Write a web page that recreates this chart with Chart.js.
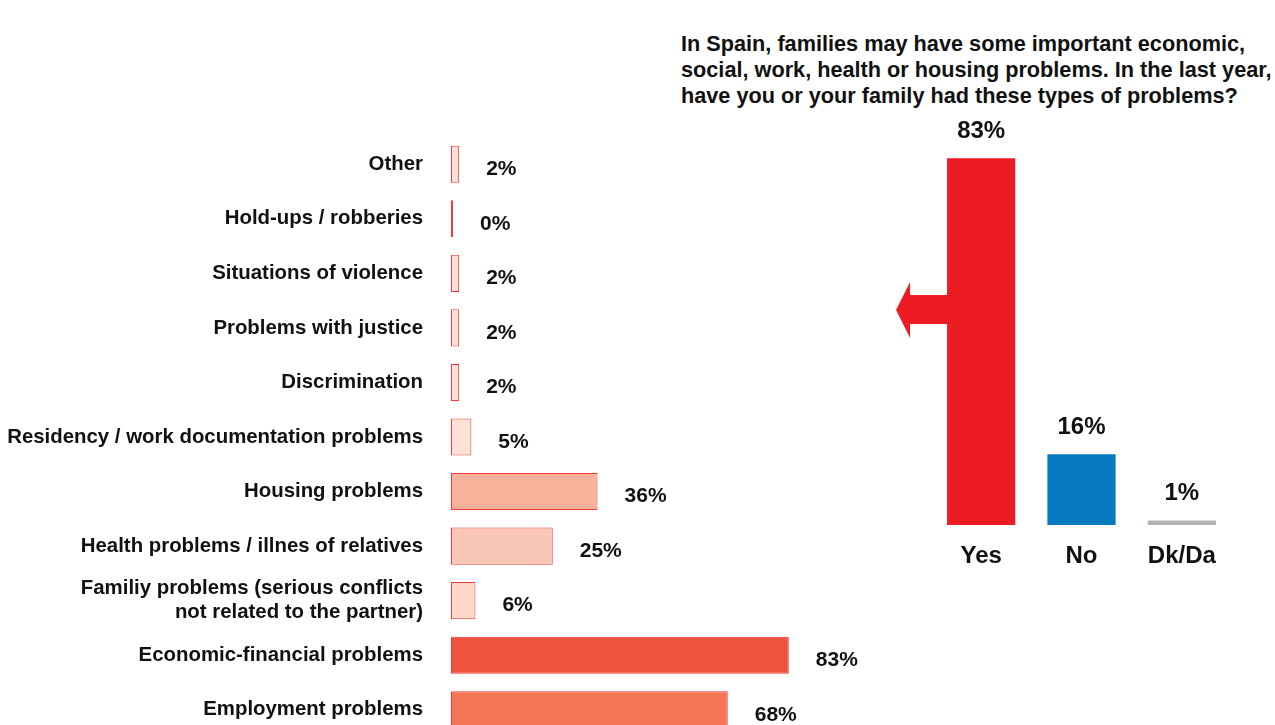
<!DOCTYPE html>
<html>
<head>
<meta charset="utf-8">
<script src="https://cdn.jsdelivr.net/npm/chart.js@4.4.1/dist/chart.umd.min.js"></script>
<style>
  html, body {
    margin: 0;
    padding: 0;
    background: #fff;
    width: 1275px;
    height: 725px;
    overflow: hidden;
  }
  .title {
    position: absolute;
    left: 681px;
    top: 31px;
    font: bold 21.7px "Liberation Sans", Arial, sans-serif;
    line-height: 26px;
    color: #111;
    white-space: nowrap;
  }
  #problems {
    position: absolute;
    left: 0;
    top: 137px;
  }
  #answers {
    position: absolute;
    left: 880px;
    top: 60px;
  }
</style>
</head>
<body>
<div class="title">
  In Spain, families may have some important economic,<br>
  social, work, health or housing problems. In the last year,<br>
  have you or your family had these types of problems?
</div>
<div id="problems"><canvas id="problemsChart" width="858" height="600"></canvas></div>
<div id="answers"><canvas id="answersChart" width="395" height="525"></canvas></div>

<script>
const FONT = '"Liberation Sans", Arial, sans-serif';

const problemLabels = [
  "Other",
  "Hold-ups / robberies",
  "Situations of violence",
  "Problems with justice",
  "Discrimination",
  "Residency / work documentation problems",
  "Housing problems",
  "Health problems / illnes of relatives",
  ["Familiy problems (serious conflicts", "not related to the partner)"],
  "Economic-financial problems",
  "Employment problems",
];
const problemValues = [2, 0, 2, 2, 2, 5, 36, 25, 6, 83, 68];
const problemColors = [
  "#fde0d6", "#fde0d6", "#fde0d6", "#fde0d6", "#fde0d6", "#fde0d6",
  "#f8b19b", "#fac6b5", "#fcd8cb", "#f0533b", "#f37556",
];

const answerLabels = ["Yes", "No", "Dk/Da"];
const answerValues = [83, 16, 1];
const answerColors = ["#ed1c24", "#0779bf", "#b1b3b6"];

// percentage next to each horizontal bar
const sideLabels = {
  id: "sideLabels",
  afterDatasetsDraw(chart) {
    const ctx = chart.ctx;
    ctx.save();
    ctx.font = "bold 21px " + FONT;
    ctx.fillStyle = "#111";
    ctx.textAlign = "left";
    ctx.textBaseline = "middle";
    chart.getDatasetMeta(0).data.forEach((bar, i) => {
      ctx.fillText(problemValues[i] + "%", bar.x + 27, bar.y + 5);
    });
    ctx.restore();
  },
};

// percentage above each column, plus the arrow coming out of "Yes"
const topLabels = {
  id: "topLabels",
  afterDatasetsDraw(chart) {
    const ctx = chart.ctx;
    const bars = chart.getDatasetMeta(0).data;
    ctx.save();
    ctx.font = "bold 24px " + FONT;
    ctx.fillStyle = "#111";
    ctx.textAlign = "center";
    ctx.textBaseline = "middle";
    bars.forEach((bar, i) => {
      ctx.fillText(answerValues[i] + "%", bar.x, bar.y - 27);
    });

    const yes = bars[0];
    const left = yes.x - yes.width / 2;
    const mid = yes.y + (yes.base - yes.y) * 0.414;
    ctx.fillStyle = answerColors[0];
    ctx.beginPath();
    ctx.moveTo(left + 1, mid - 15);
    ctx.lineTo(left - 37, mid - 15);
    ctx.lineTo(left - 37, mid - 28);
    ctx.lineTo(left - 51, mid);
    ctx.lineTo(left - 37, mid + 28);
    ctx.lineTo(left - 37, mid + 14);
    ctx.lineTo(left + 1, mid + 14);
    ctx.closePath();
    ctx.fill();
    ctx.restore();
  },
};

new Chart(document.getElementById("problemsChart"), {
  type: "bar",
  data: {
    labels: problemLabels,
    datasets: [
      {
        data: problemValues,
        backgroundColor: problemColors,
        borderColor: "#ef3b3b",
        borderWidth: 1,
        borderSkipped: false,
        minBarLength: 2,
        barPercentage: 0.68,
        categoryPercentage: 1,
      },
    ],
  },
  options: {
    indexAxis: "y",
    responsive: false,
    animation: false,
    layout: { padding: 0 },
    plugins: {
      legend: { display: false },
      tooltip: { enabled: false },
    },
    scales: {
      x: { display: false, min: 0, max: 100 },
      y: {
        grid: { display: false, drawTicks: false },
        border: { display: false },
        afterFit(scale) {
          // fixed label column; rows use the full canvas height
          scale.width = 451;
          scale.paddingTop = 0;
          scale.paddingBottom = 0;
        },
        ticks: {
          color: "#111",
          padding: 28,
          font: { size: 20.4, weight: "bold", family: FONT, lineHeight: 1.18 },
        },
      },
    },
  },
  plugins: [sideLabels],
});

new Chart(document.getElementById("answersChart"), {
  type: "bar",
  data: {
    labels: answerLabels,
    datasets: [
      {
        data: answerValues,
        backgroundColor: answerColors,
        borderWidth: 0,
        barPercentage: 0.68,
        categoryPercentage: 1,
      },
    ],
  },
  options: {
    responsive: false,
    animation: false,
    layout: { padding: { left: 51, right: 43, top: 23, bottom: 0 } },
    plugins: {
      legend: { display: false },
      tooltip: { enabled: false },
    },
    scales: {
      y: { display: false, min: 0, max: 100 },
      x: {
        grid: { display: false, drawTicks: false },
        border: { display: false },
        afterFit(scale) {
          scale.height = 60;
        },
        ticks: {
          color: "#111",
          padding: 17,
          font: { size: 24, weight: "bold", family: FONT },
        },
      },
    },
  },
  plugins: [topLabels],
});
</script>
</body>
</html>
